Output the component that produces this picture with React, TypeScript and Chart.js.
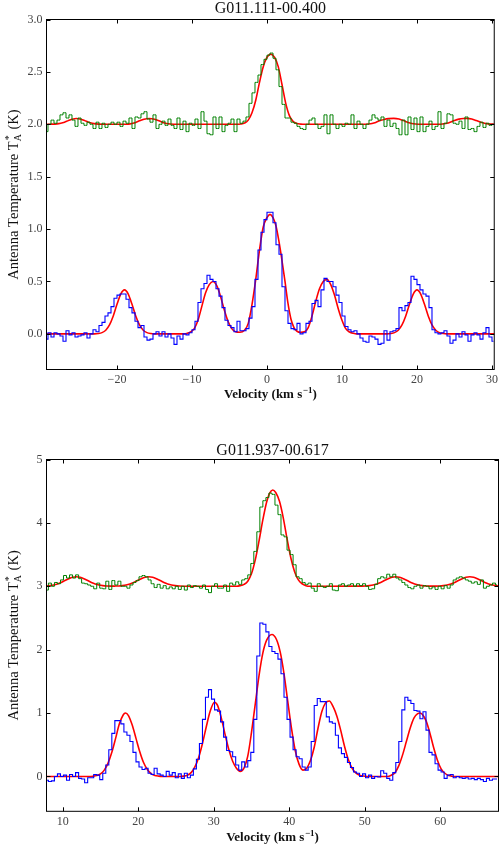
import React, { useEffect, useRef } from 'react';
import { Chart, registerables } from 'chart.js';

Chart.register(...registerables);

const SERIF = '"Liberation Serif", "Times New Roman", Times, serif';

// ---------- Panel 1: G011.111-00.400 ----------
const TOP_TITLE = 'G011.111-00.400';
const TOP_V0 = -29.4;
const TOP_DV = 0.4;
// NH3 (1,1) spectrum, K
const TOP_NH3_11 = [
  -0.05, 0.01, -0.03, 0.01, 0.00, -0.02, -0.07, 0.03, -0.01, 0.01,
  -0.03, -0.02, -0.01, 0.01, -0.04, 0.00, 0.04, 0.02, 0.08, 0.11,
  0.17, 0.20, 0.26, 0.34, 0.37, 0.38, 0.38, 0.33, 0.25, 0.20,
  0.12, 0.06, 0.08, -0.03, -0.06, -0.05, 0.00, 0.02, -0.02, 0.02,
  -0.03, 0.00, -0.04, -0.10, -0.02, -0.05, 0.00, -0.01, 0.01, 0.04,
  0.12, 0.30, 0.43, 0.48, 0.56, 0.52, 0.50, 0.43, 0.36, 0.25,
  0.13, 0.08, 0.06, 0.02, 0.12, 0.03, 0.03, 0.05, 0.15, 0.26,
  0.52, 0.80, 0.97, 1.09, 1.16, 1.16, 1.06, 0.85, 0.76, 0.45,
  0.22, 0.10, 0.05, 0.04, 0.10, 0.00, 0.01, 0.10, 0.12, 0.29,
  0.32, 0.26, 0.42, 0.53, 0.50, 0.50, 0.45, 0.37, 0.30, 0.17,
  0.07, 0.04, 0.02, 0.03, 0.00, -0.04, -0.07, -0.08, -0.02, -0.03,
  -0.05, -0.10, -0.09, 0.03, -0.06, 0.02, 0.03, 0.05, 0.25, 0.22,
  0.27, 0.30, 0.55, 0.52, 0.47, 0.42, 0.38, 0.36, 0.25, 0.04,
  0.01, 0.00, 0.01, 0.03, -0.02, -0.09, -0.06, 0.00, -0.03, 0.02,
  -0.01, -0.07, -0.01, 0.01, -0.01, -0.05, 0.01, 0.06, -0.03, -0.07,
];
// NH3 (2,2) spectrum, offset by +2 K
const TOP_NH3_22 = [
  1.93, 2.00, 2.04, 2.01, 2.04, 2.09, 2.11, 2.06, 2.09, 2.04,
  1.98, 2.06, 2.01, 1.99, 2.02, 2.00, 1.96, 2.02, 1.96, 2.01,
  1.97, 2.00, 2.02, 2.00, 2.02, 1.98, 2.03, 2.01, 2.06, 1.96,
  2.07, 2.06, 2.10, 2.12, 2.05, 2.02, 2.09, 1.96, 2.00, 2.03,
  1.99, 2.05, 1.99, 1.96, 2.06, 1.95, 2.03, 1.93, 2.01, 1.99,
  2.05, 1.96, 2.12, 2.03, 1.91, 1.90, 2.07, 1.96, 2.07, 1.93,
  1.99, 2.01, 2.05, 1.93, 2.05, 2.01, 2.03, 2.07, 2.20, 2.30,
  2.40, 2.47, 2.57, 2.62, 2.66, 2.68, 2.63, 2.52, 2.36, 2.19,
  2.06, 2.06, 2.02, 2.01, 1.98, 1.96, 1.95, 2.00, 2.04, 2.06,
  2.00, 1.96, 1.98, 2.09, 1.91, 2.09, 2.00, 1.96, 2.00, 1.98,
  2.01, 2.00, 2.09, 1.96, 2.03, 2.00, 1.96, 2.00, 2.04, 2.09,
  2.06, 2.04, 2.07, 1.98, 2.04, 1.98, 2.01, 1.96, 1.90, 2.04,
  1.90, 2.07, 1.95, 2.06, 1.93, 2.07, 1.93, 1.98, 2.03, 1.95,
  1.98, 2.12, 1.96, 2.01, 2.10, 2.09, 2.01, 2.00, 2.03, 1.96,
  2.07, 1.95, 1.96, 1.93, 1.98, 2.02, 1.97, 2.01, 1.99, 2.00,
];
// Fit to NH3 (1,1), sampled
const TOP_FIT11_V = [
  -29.4, -23, -22.5, -22, -21.5, -21, -20.5, -20, -19.5, -19, -18.5, -18, -17.5, -17, -16.5, -16, -15.5, -15,
  -11, -10.7, -10.2, -9.7, -9.2, -8.7, -8.2, -7.7, -7.2, -6.7, -6.2, -5.7, -5.2, -4.7, -4.2, -3.6,
  -3.0, -2.5, -2.0, -1.5, -1.0, -0.5, 0, 0.4, 0.8, 1.2, 1.6, 2.0, 2.4, 2.8, 3.2, 3.6, 4.0, 4.5,
  5.0, 5.5, 6.0, 6.5, 7.0, 7.5, 8.0, 8.5, 9.0, 9.5, 10.0, 10.5, 11.0, 11.5, 12,
  16, 16.5, 17, 17.5, 18, 18.5, 19, 19.5, 20, 20.5, 21, 21.5, 22, 22.5, 23, 23.5, 24, 30.4,
];
const TOP_FIT11_T = [
  0, 0, 0.003, 0.012, 0.035, 0.085, 0.171, 0.282, 0.38, 0.42, 0.38, 0.282, 0.171, 0.085, 0.035, 0.012, 0.003, 0,
  0, 0.004, 0.018, 0.05, 0.13, 0.26, 0.39, 0.47, 0.50, 0.46, 0.36, 0.23, 0.12, 0.05, 0.02, 0.015,
  0.035, 0.10, 0.28, 0.52, 0.80, 1.02, 1.11, 1.14, 1.11, 1.03, 0.88, 0.70, 0.50, 0.29, 0.14, 0.06, 0.025, 0.015,
  0.02, 0.06, 0.17, 0.31, 0.43, 0.50, 0.52, 0.47, 0.37, 0.24, 0.13, 0.05, 0.018, 0.005, 0,
  0, 0.003, 0.012, 0.035, 0.085, 0.171, 0.282, 0.38, 0.42, 0.38, 0.282, 0.171, 0.085, 0.035, 0.012, 0.003, 0, 0,
];
// Fit to NH3 (2,2), sampled
const TOP_FIT22_V = [
  -29.4, -29, -28, -27.5, -27, -26.5, -26, -25.4, -24.8, -24.3, -23.8, -23.3, -22.8, -22,
  -19, -18.5, -18, -17.5, -17, -16.4, -15.7, -15, -14.4, -13.9, -13.4, -12.9, -12,
  -4, -3.5, -3.0, -2.5, -2.0, -1.5, -1.0, -0.5, 0.0, 0.5, 1.0, 1.5, 2.0, 2.5, 3.0, 3.5, 4.0, 4.5, 5,
  13, 13.5, 14, 14.5, 15, 15.6, 16.2, 16.9, 17.6, 18.2, 18.8, 19.3, 19.8, 20.5,
  23, 23.5, 24, 24.5, 25, 25.6, 26.2, 26.7, 27.3, 27.9, 28.5, 29, 29.5, 30.4,
];
const TOP_FIT22_T = [
  2.0, 2.001, 2.004, 2.01, 2.02, 2.035, 2.048, 2.055, 2.048, 2.035, 2.02, 2.01, 2.004, 2.001,
  2.0, 2.002, 2.008, 2.018, 2.033, 2.048, 2.055, 2.048, 2.033, 2.018, 2.008, 2.003, 2.0,
  2.0, 2.003, 2.012, 2.04, 2.11, 2.23, 2.40, 2.55, 2.64, 2.67, 2.64, 2.55, 2.38, 2.20, 2.08, 2.025, 2.007, 2.002, 2.0,
  2.0, 2.003, 2.008, 2.018, 2.033, 2.046, 2.054, 2.056, 2.05, 2.035, 2.018, 2.008, 2.003, 2.0,
  2.0, 2.004, 2.01, 2.022, 2.036, 2.049, 2.055, 2.056, 2.05, 2.036, 2.02, 2.01, 2.004, 2.001,
];

// ---------- Panel 2: G011.937-00.617 ----------
const BOT_TITLE = 'G011.937-00.617';
const BOT_V0 = 7.9;
const BOT_DV = 0.4;
const BOT_NH3_11 = [
  -0.06, -0.08, -0.07, 0.00, 0.04, 0.00, 0.02, -0.06, 0.03, 0.00,
  0.06, -0.03, -0.04, -0.10, -0.02, -0.02, 0.03, 0.02, -0.05, 0.05,
  0.18, 0.42, 0.68, 0.88, 0.88, 0.83, 0.70, 0.65, 0.55, 0.38,
  0.23, 0.15, 0.11, 0.13, 0.05, 0.03, 0.13, 0.04, 0.02, 0.00,
  0.08, 0.02, 0.06, -0.02, 0.04, -0.03, 0.05, -0.02, 0.02, 0.12,
  0.27, 0.52, 0.90, 1.25, 1.37, 1.22, 1.05, 1.03, 0.86, 0.62,
  0.41, 0.39, 0.31, 0.18, 0.10, 0.23, 0.15, 0.25, 0.38, 0.90,
  1.90, 2.42, 2.40, 2.28, 2.05, 1.97, 1.94, 1.85, 1.62, 1.25,
  0.90, 0.62, 0.42, 0.31, 0.28, 0.15, 0.10, 0.15, 0.55, 1.12,
  1.23, 1.18, 1.18, 0.94, 0.86, 0.84, 0.65, 0.45, 0.36, 0.30,
  0.22, 0.14, 0.07, 0.05, 0.00, 0.04, -0.02, 0.02, -0.03, 0.00,
  -0.01, 0.09, 0.05, -0.03, -0.06, 0.06, 0.22, 0.55, 1.05, 1.25,
  1.20, 1.15, 1.04, 1.03, 0.91, 1.02, 0.73, 0.38, 0.34, 0.20,
  0.10, 0.07, -0.03, 0.02, 0.03, -0.02, 0.00, -0.02, -0.03, -0.02,
  -0.04, -0.03, -0.05, -0.03, -0.05, -0.08, -0.03, -0.06, -0.04, -0.04,
];
const BOT_NH3_22 = [
  2.94, 3.05, 3.00, 3.06, 3.04, 3.10, 3.17, 3.13, 3.18, 3.13,
  3.18, 3.12, 3.05, 3.04, 3.02, 3.00, 2.96, 3.05, 2.97, 2.96,
  3.08, 2.95, 3.09, 3.02, 3.08, 3.00, 3.00, 2.97, 3.02, 3.06,
  3.09, 3.15, 3.17, 3.15, 3.10, 3.04, 2.98, 3.03, 2.97, 3.01,
  2.96, 2.99, 2.96, 3.00, 2.95, 3.00, 2.94, 3.02, 2.98, 3.01,
  3.00, 2.97, 3.02, 2.95, 2.90, 3.00, 3.04, 2.97, 2.97, 3.02,
  2.92, 3.05, 3.02, 3.07, 3.03, 3.10, 3.12, 3.18, 3.36, 3.55,
  3.86, 4.25, 4.35, 4.40, 4.47, 4.45, 4.28, 4.13, 3.81, 3.78,
  3.57, 3.50, 3.34, 3.15, 3.12, 3.06, 3.03, 3.05, 2.97, 2.92,
  3.04, 3.00, 2.98, 3.00, 3.04, 2.94, 2.93, 3.02, 3.04, 3.00,
  3.02, 3.04, 3.00, 3.04, 3.01, 3.04, 3.00, 2.95, 2.96, 3.03,
  3.12, 3.15, 3.13, 3.19, 3.15, 3.19, 3.13, 3.10, 3.06, 3.02,
  2.98, 2.96, 3.00, 3.02, 2.97, 3.01, 3.00, 2.96, 2.99, 2.95,
  3.00, 2.96, 3.01, 2.97, 3.02, 3.10, 3.13, 3.15, 3.13, 3.10,
  3.08, 3.05, 3.07, 3.03, 3.10, 2.97, 3.00, 3.02, 3.05, 3.02,
];
const BOT_FIT11_V = [
  7.85, 13.5, 14, 14.5, 15, 15.5, 16, 16.5, 17, 17.5, 18, 18.3, 18.7, 19.2, 19.7, 20.2, 20.7, 21.2, 21.7, 22.2, 22.7, 23.2,
  25.5, 26, 26.5, 27, 27.5, 28, 28.5, 29, 29.5, 30.1, 30.5, 31, 31.5, 32, 32.5, 33, 33.5,
  34, 34.5, 35, 35.5, 36, 36.5, 37, 37.7, 38.3, 38.8, 39.3, 39.8, 40.3, 40.8, 41.3, 41.8,
  42.3, 42.8, 43.3, 43.8, 44.3, 44.8, 45.3, 45.8, 46.3, 46.8, 47.3, 47.8, 48.3, 48.8, 49.3, 49.8, 50.3,
  53, 53.5, 54, 54.5, 55, 55.5, 56, 56.5, 57, 57.3, 57.6, 58.1, 58.6, 59.1, 59.6, 60.1, 60.6, 61.1, 61.6, 62, 67.7,
];
const BOT_FIT11_T = [
  0, 0, 0.004, 0.014, 0.04, 0.1, 0.21, 0.38, 0.6, 0.83, 0.97, 1.0, 0.96, 0.81, 0.6, 0.39, 0.22, 0.11, 0.045, 0.016, 0.005, 0,
  0, 0.005, 0.02, 0.06, 0.15, 0.30, 0.52, 0.78, 1.02, 1.17, 1.12, 0.92, 0.66, 0.42, 0.24, 0.13, 0.08,
  0.13, 0.32, 0.70, 1.15, 1.60, 1.95, 2.15, 2.24, 2.16, 1.96, 1.62, 1.18, 0.75, 0.40, 0.19, 0.10,
  0.13, 0.25, 0.46, 0.76, 1.02, 1.16, 1.19, 1.10, 0.95, 0.73, 0.48, 0.27, 0.13, 0.055, 0.02, 0.006, 0,
  0, 0.02, 0.06, 0.17, 0.34, 0.55, 0.76, 0.92, 0.99, 1.0, 0.98, 0.88, 0.69, 0.46, 0.26, 0.12, 0.05, 0.015, 0.004, 0, 0,
];
const BOT_FIT22_V = [
  7.85, 8.3, 8.8, 9.3, 9.8, 10.3, 10.8, 11.3, 11.8, 12.3, 12.8, 13.3, 13.8, 14.3, 14.8, 15.3, 15.8, 16.4,
  16.9, 17.4, 17.9, 18.4, 18.9, 19.4, 19.9, 20.4, 20.9, 21.4, 21.9, 22.4, 22.9, 23.4, 23.9, 24.4, 24.9, 25.4, 26, 27,
  33, 33.5, 34, 34.5, 35, 35.5, 36, 36.5, 37, 37.4, 37.8, 38.2, 38.7, 39.2, 39.7, 40.2, 40.7, 41.2, 41.7, 42.2, 42.7,
  49.6, 50.1, 50.6, 51.1, 51.6, 52.1, 52.6, 53.1, 53.6, 54.1, 54.6, 55.1, 55.6, 56.1, 56.6, 57.1, 57.6, 58.1, 58.6,
  59.4, 59.9, 60.4, 60.9, 61.4, 61.9, 62.4, 62.9, 63.4, 63.9, 64.4, 64.9, 65.4, 65.9, 66.4, 66.9, 67.4, 67.7,
];
const BOT_FIT22_T = [
  3.005, 3.01, 3.02, 3.037, 3.061, 3.091, 3.12, 3.142, 3.15, 3.142, 3.12, 3.091, 3.061, 3.037, 3.02, 3.01, 3.004, 3.002,
  3.003, 3.005, 3.01, 3.02, 3.037, 3.061, 3.091, 3.12, 3.142, 3.15, 3.142, 3.12, 3.091, 3.061, 3.037, 3.02, 3.01, 3.004, 3.001, 3.0,
  3.0, 3.01, 3.03, 3.08, 3.2, 3.42, 3.72, 4.05, 4.33, 4.47, 4.52, 4.48, 4.34, 4.08, 3.75, 3.45, 3.23, 3.1, 3.04, 3.01, 3.0,
  3.002, 3.004, 3.01, 3.02, 3.037, 3.061, 3.091, 3.12, 3.142, 3.15, 3.142, 3.12, 3.091, 3.061, 3.037, 3.02, 3.01, 3.004, 3.002,
  3.002, 3.004, 3.01, 3.02, 3.037, 3.061, 3.091, 3.12, 3.142, 3.15, 3.142, 3.12, 3.091, 3.061, 3.037, 3.02, 3.01, 3.006,
];

// ---------- helpers ----------
const channels = (v0: number, dv: number, vals: number[]) =>
  vals.map((t, i) => ({ x: Math.round((v0 + i * dv) * 1000) / 1000, y: t }));
const curve = (vs: number[], ts: number[]) => vs.map((v, i) => ({ x: v, y: ts[i] }));
const fmtNum = (v: number, dec: number) => {
  const s = Math.abs(v).toFixed(dec);
  return v < -1e-9 ? '\u2212' + s : s;
};

const decoPlugin = {
  id: 'deco',
  afterDatasetsDraw(chart: any, _args: any, opts: any) {
    const { ctx, chartArea } = chart;
    const { left, right, top, bottom } = chartArea;
    const xs = chart.scales.x;
    const ys = chart.scales.y;
    ctx.save();
    ctx.strokeStyle = '#000';
    ctx.lineWidth = 1;
    ctx.strokeRect(left, top, right - left, bottom - top);
    ctx.beginPath();
    const tl = 4;
    xs.ticks.forEach((t: any) => {
      const p = Math.round(xs.getPixelForValue(t.value)) + 0.5;
      ctx.moveTo(p, bottom);
      ctx.lineTo(p, bottom - tl);
      ctx.moveTo(p, top);
      ctx.lineTo(p, top + tl);
    });
    ys.ticks.forEach((t: any) => {
      const p = Math.round(ys.getPixelForValue(t.value)) + 0.5;
      ctx.moveTo(left, p);
      ctx.lineTo(left + tl, p);
      ctx.moveTo(right, p);
      ctx.lineTo(right - tl, p);
    });
    ctx.stroke();

    // panel title
    ctx.fillStyle = '#111';
    ctx.font = `16px ${SERIF}`;
    ctx.textAlign = 'center';
    ctx.textBaseline = 'alphabetic';
    ctx.fillText(opts.title, (left + right) / 2, opts.titleY);

    // x title: Velocity (km s^-1)
    const big = `bold 13px ${SERIF}`;
    const small = `bold 9px ${SERIF}`;
    ctx.textAlign = 'left';
    ctx.font = big;
    const a = 'Velocity (km s';
    const c = ')';
    const wa = ctx.measureText(a).width;
    const wc = ctx.measureText(c).width;
    ctx.font = small;
    const b = '\u22121';
    const wb = ctx.measureText(b).width + 0.5;
    const x0 = (left + right) / 2 - (wa + wb + wc) / 2;
    const by = opts.xTitleY;
    ctx.font = big;
    ctx.fillText(a, x0, by);
    ctx.font = small;
    ctx.fillText(b, x0 + wa + 0.5, by - 5);
    ctx.font = big;
    ctx.fillText(c, x0 + wa + wb, by);

    // y title: Antenna Temperature T_A^* (K)
    ctx.translate(opts.yTitleX, (top + bottom) / 2);
    ctx.rotate(-Math.PI / 2);
    const yb = `14.5px ${SERIF}`;
    const ysm = `10px ${SERIF}`;
    ctx.font = yb;
    const t1 = 'Antenna Temperature T';
    const t3 = ' (K)';
    const w1 = ctx.measureText(t1).width;
    const w3 = ctx.measureText(t3).width;
    ctx.font = ysm;
    const w2 = Math.max(ctx.measureText('A').width, ctx.measureText('*').width) + 1;
    const s0 = -(w1 + w2 + w3) / 2;
    ctx.font = yb;
    ctx.fillText(t1, s0, 0);
    ctx.font = ysm;
    ctx.fillText('A', s0 + w1, 3);
    ctx.fillText('*', s0 + w1 + 1, -6.5);
    ctx.font = yb;
    ctx.fillText(t3, s0 + w1 + w2, 0);
    ctx.restore();
  },
};

type PanelCfg = {
  title: string;
  titleY: number;
  xTitleY: number;
  yTitleX: number;
  canvasTop: number;
  canvasHeight: number;
  padTop: number;
  xAxisHeight: number;
  xMin: number;
  xMax: number;
  yMin: number;
  yMax: number;
  yStep: number;
  yDec: number;
  spec11: { x: number; y: number }[];
  spec22: { x: number; y: number }[];
  fit11: { x: number; y: number }[];
  fit22: { x: number; y: number }[];
};

const PANELS: PanelCfg[] = [
  {
    title: TOP_TITLE,
    titleY: 13,
    xTitleY: 398,
    yTitleX: 18,
    canvasTop: 0,
    canvasHeight: 420,
    padTop: 19.5,
    xAxisHeight: 50.5,
    xMin: -29.4,
    xMax: 30.3,
    yMin: -0.34,
    yMax: 3.0,
    yStep: 0.5,
    yDec: 1,
    spec11: channels(TOP_V0, TOP_DV, TOP_NH3_11),
    spec22: channels(TOP_V0, TOP_DV, TOP_NH3_22),
    fit11: curve(TOP_FIT11_V, TOP_FIT11_T),
    fit22: curve(TOP_FIT22_V, TOP_FIT22_T),
  },
  {
    title: BOT_TITLE,
    titleY: 15,
    xTitleY: 401,
    yTitleX: 18,
    canvasTop: 440,
    canvasHeight: 407,
    padTop: 19.5,
    xAxisHeight: 35.7,
    xMin: 7.85,
    xMax: 67.7,
    yMin: -0.55,
    yMax: 5,
    yStep: 1,
    yDec: 0,
    spec11: channels(BOT_V0, BOT_DV, BOT_NH3_11),
    spec22: channels(BOT_V0, BOT_DV, BOT_NH3_22),
    fit11: curve(BOT_FIT11_V, BOT_FIT11_T),
    fit22: curve(BOT_FIT22_V, BOT_FIT22_T),
  },
];

function Panel({ cfg }: { cfg: PanelCfg }) {
  const ref = useRef<HTMLCanvasElement | null>(null);
  useEffect(() => {
    if (!ref.current) return;
    const tickFont = { family: SERIF, size: 12 };
    const chart = new Chart(ref.current, {
      type: 'line',
      data: {
        datasets: [
          { data: cfg.spec22, borderColor: '#008000', borderWidth: 1, stepped: 'middle', pointRadius: 0, fill: false },
          { data: cfg.spec11, borderColor: '#0000ff', borderWidth: 1.1, stepped: 'middle', pointRadius: 0, fill: false },
          { data: cfg.fit22, borderColor: '#ff0000', borderWidth: 1.6, cubicInterpolationMode: 'monotone', pointRadius: 0, fill: false },
          { data: cfg.fit11, borderColor: '#ff0000', borderWidth: 1.6, cubicInterpolationMode: 'monotone', pointRadius: 0, fill: false },
        ] as any,
      },
      options: {
        responsive: false,
        animation: false,
        events: [],
        layout: { padding: { top: cfg.padTop, right: 2.5, left: 0, bottom: 0 } },
        plugins: {
          legend: { display: false },
          tooltip: { enabled: false },
          title: { display: false },
          deco: { title: cfg.title, titleY: cfg.titleY, xTitleY: cfg.xTitleY, yTitleX: cfg.yTitleX },
        } as any,
        scales: {
          x: {
            type: 'linear',
            min: cfg.xMin,
            max: cfg.xMax,
            afterFit: (s: any) => { s.height = cfg.xAxisHeight; },
            grid: { display: false, drawTicks: false },
            border: { display: false },
            ticks: {
              stepSize: 10,
              includeBounds: false,
              autoSkip: false,
              maxRotation: 0,
              padding: 3,
              color: '#444',
              font: tickFont,
              callback: (v: any) => fmtNum(Number(v), 0),
            },
          },
          y: {
            type: 'linear',
            min: cfg.yMin,
            max: cfg.yMax,
            afterFit: (s: any) => { s.width = 46.5; },
            grid: { display: false, drawTicks: false },
            border: { display: false },
            ticks: {
              stepSize: cfg.yStep,
              includeBounds: false,
              autoSkip: false,
              padding: 4,
              color: '#444',
              font: tickFont,
              callback: (v: any) => fmtNum(Number(v), cfg.yDec),
            },
          },
        } as any,
      },
      plugins: [decoPlugin as any],
    });
    return () => chart.destroy();
  }, [cfg]);
  return (
    <div style={{ position: 'absolute', left: 0, top: cfg.canvasTop, width: 501, height: cfg.canvasHeight }}>
      <canvas ref={ref} width={501} height={cfg.canvasHeight} style={{ display: 'block', width: 501, height: cfg.canvasHeight }} />
    </div>
  );
}

export default function App() {
  return (
    <div style={{ position: 'absolute', left: 0, top: 0, width: 501, height: 847, background: '#fff', overflow: 'hidden' }}>
      {PANELS.map((p) => (
        <Panel key={p.title} cfg={p} />
      ))}
    </div>
  );
}
